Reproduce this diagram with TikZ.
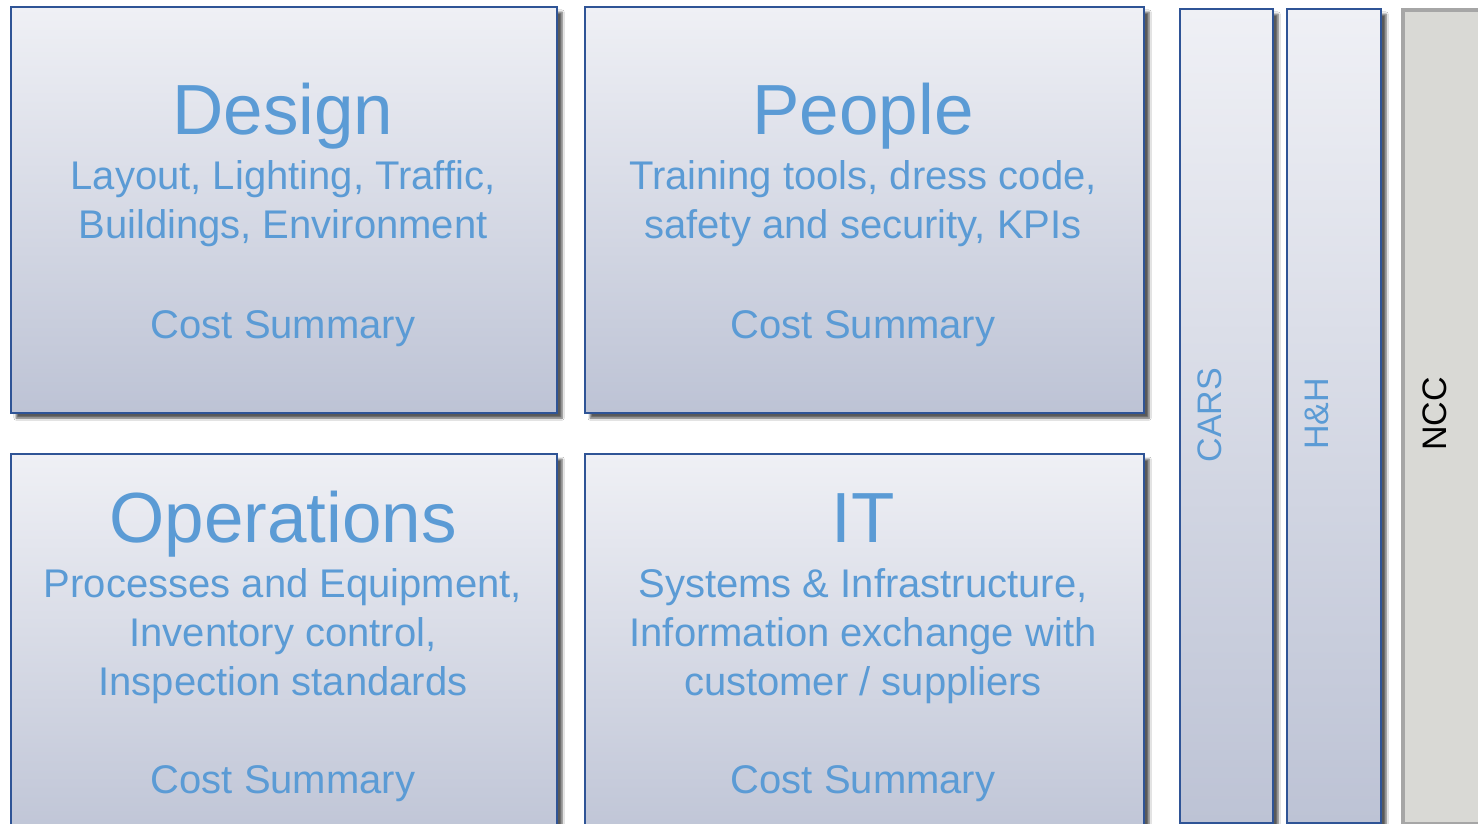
\documentclass[tikz,border=0pt]{standalone}
\usepackage{fontspec}
\setmainfont{Liberation Sans}
\usetikzlibrary{shadows.blur}
\definecolor{panelText}{HTML}{5B9BD5}
\definecolor{panelEdge}{HTML}{2F5496}
\definecolor{panelTop}{HTML}{EFF0F5}
\definecolor{panelBottom}{HTML}{BDC3D5}
\definecolor{nccGrey}{HTML}{D9D9D5}
\definecolor{nccEdge}{HTML}{A6A6A6}

\begin{document}
\begin{tikzpicture}[x=1pt, y=-1pt,
    panel/.style={draw=panelEdge, line width=2.2pt, top color=panelTop, bottom color=panelBottom,
        inner sep=0pt, anchor=north west,
        blur shadow={shadow xshift=5pt, shadow yshift=-5pt, shadow blur steps=6, shadow opacity=65}},
    title/.style={text=panelText, font=\fontsize{71}{80}\selectfont, anchor=base, inner sep=0pt},
    desc/.style={text=panelText, font=\fontsize{40}{49}\selectfont, align=center, anchor=base, inner sep=0pt},
    side/.style={font=\fontsize{34}{40}\selectfont, rotate=90, inner sep=0pt}]
    \clip (0,0) rectangle (1478,824);
    \fill[white] (0,0) rectangle (1478,824);
    % four panels
    \node[panel, minimum width=546pt, minimum height=406pt] (design) at (10,6) {};
    \node[panel, minimum width=559pt, minimum height=406pt] (people) at (584,6) {};
    \node[panel, minimum width=546pt, minimum height=400pt] (operations) at (10,453) {};
    \node[panel, minimum width=559pt, minimum height=400pt] (it) at (584,453) {};
    % side columns
    \node[panel, minimum width=93pt, minimum height=814pt] (cars) at (1179,8) {};
    \node[panel, minimum width=94pt, minimum height=814pt] (hh) at (1286,8) {};
    \node[draw=nccEdge, line width=4pt, fill=nccGrey, minimum width=110pt, minimum height=814pt,
        inner sep=0pt, anchor=north west] (ncc) at (1401,8) {};
    % texts (base = last line)
    \node[title] (designTitle) at (283,135) {Design};
    \node[desc] (designDesc) at (283,238) {Layout, Lighting, Traffic,\\Buildings, Environment};
    \node[desc] (designCost) at (283,338) {Cost Summary};
    \node[title] (peopleTitle) at (863,135) {People};
    \node[desc] (peopleDesc) at (863,238) {Training tools, dress code,\\safety and security, KPIs};
    \node[desc] (peopleCost) at (863,338) {Cost Summary};
    \node[title] (operationsTitle) at (283,542) {Operations};
    \node[desc] (operationsDesc) at (283,695) {Processes and Equipment,\\Inventory control,\\Inspection standards};
    \node[desc] (operationsCost) at (283,793) {Cost Summary};
    \node[title] (itTitle) at (863,542) {IT};
    \node[desc] (itDesc) at (863,695) {Systems \& Infrastructure,\\Information exchange with\\customer / suppliers};
    \node[desc] (itCost) at (863,793) {Cost Summary};
    \node[side, text=panelText] (carsLabel) at (1210,415) {CARS};
    \node[side, text=panelText] (hhLabel) at (1317,414) {H\&H};
    \node[side, text=black] (nccLabel) at (1435,414) {NCC};
\end{tikzpicture}
\end{document}
